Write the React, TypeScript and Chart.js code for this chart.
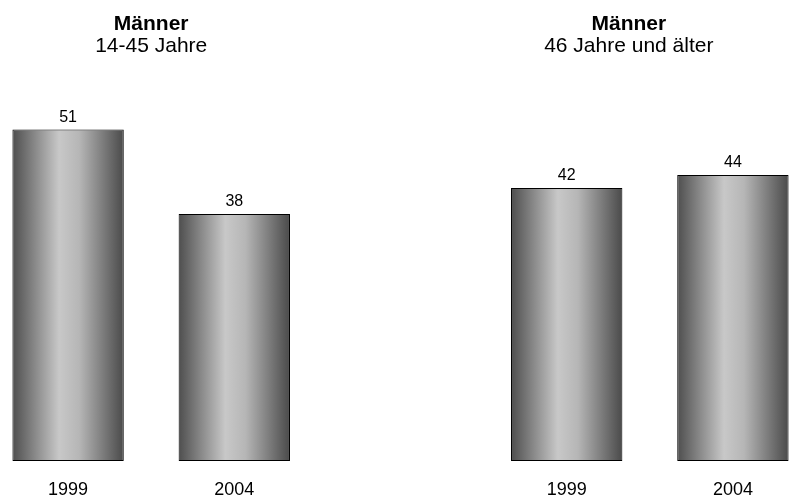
import React, { useEffect, useRef } from "react";
import { Chart, registerables } from "chart.js";

Chart.register(...registerables);

// ---- data ----
const categories = ["1999", "2004", "", "1999", "2004"];
const values: (number | null)[] = [51, 38, null, 42, 44];
const groupTitles = ["Männer", "Männer"];
const groupSubtitles = ["14-45 Jahre", "46 Jahre und älter"];
const groupSlots = [
  [0, 1],
  [3, 4],
];
const yMax = 60;

const FONT = "'Liberation Sans', Arial, Helvetica, sans-serif";
const BAR_PCT = 0.67;
// horizontal nudge of each group's heading relative to its bars (layout only)
const TITLE_SHIFT = [0, -21];

const annotate = {
  id: "annotate",
  afterDatasetsDraw(chart: any) {
    const ctx = chart.ctx;
    const meta = chart.getDatasetMeta(0);
    ctx.save();
    ctx.fillStyle = "#000";
    ctx.textAlign = "center";
    ctx.textBaseline = "alphabetic";
    ctx.font = `16px ${FONT}`;
    meta.data.forEach((el: any, i: number) => {
      const v = values[i];
      if (v == null) return;
      ctx.fillText(String(v), el.x, el.y - 8);
    });
    const xs = chart.scales.x;
    groupSlots.forEach((slots, g) => {
      const cx =
        slots.reduce((s, i) => s + xs.getPixelForValue(i), 0) / slots.length +
        TITLE_SHIFT[g];
      ctx.font = `bold 21px ${FONT}`;
      ctx.fillText(groupTitles[g], cx, 30);
      ctx.font = `21px ${FONT}`;
      ctx.fillText(groupSubtitles[g], cx, 52);
    });
    ctx.restore();
  },
};

export default function App() {
  const ref = useRef<HTMLCanvasElement | null>(null);
  useEffect(() => {
    if (!ref.current) return;
    const chart = new Chart(ref.current, {
      type: "bar",
      data: {
        labels: categories,
        datasets: [
          {
            data: values as any,
            backgroundColor: (c: any) => {
              const ch = c.chart;
              const xs = ch.scales && ch.scales.x;
              if (!ch.chartArea || !xs || c.dataIndex == null) return "#999";
              const cx = xs.getPixelForValue(c.dataIndex);
              const half = ((xs.width / categories.length) * BAR_PCT) / 2;
              const g = ch.ctx.createLinearGradient(cx - half, 0, cx + half, 0);
              g.addColorStop(0, "#4e4e4e");
              g.addColorStop(0.42, "#c8c8c8");
              g.addColorStop(0.6, "#b6b6b6");
              g.addColorStop(1, "#4a4a4a");
              return g;
            },
            borderColor: "#000",
            borderWidth: 1,
            borderSkipped: false,
            barPercentage: BAR_PCT,
            categoryPercentage: 1,
          },
        ],
      },
      options: {
        animation: false,
        responsive: false,
        devicePixelRatio: 1,
        layout: { padding: { top: 71, bottom: 1, left: 0, right: 0 } },
        plugins: {
          legend: { display: false },
          title: { display: false },
          tooltip: { enabled: false },
        },
        scales: {
          x: {
            grid: { display: false, drawTicks: false },
            border: { display: false },
            ticks: {
              color: "#000",
              padding: 20,
              font: { family: FONT, size: 18, lineHeight: 1 },
              maxRotation: 0,
              autoSkip: false,
            },
          },
          y: {
            display: false,
            min: 0,
            max: yMax,
          },
        },
      },
      plugins: [annotate],
    });
    return () => chart.destroy();
  }, []);

  return (
    <div
      style={{
        position: "fixed",
        left: 0,
        top: 0,
        width: 790,
        height: 497,
        overflow: "hidden",
        background: "#fff",
      }}
    >
      <canvas
        ref={ref}
        width={831}
        height={520}
        style={{ position: "absolute", left: -15, top: 0 }}
      />
    </div>
  );
}
